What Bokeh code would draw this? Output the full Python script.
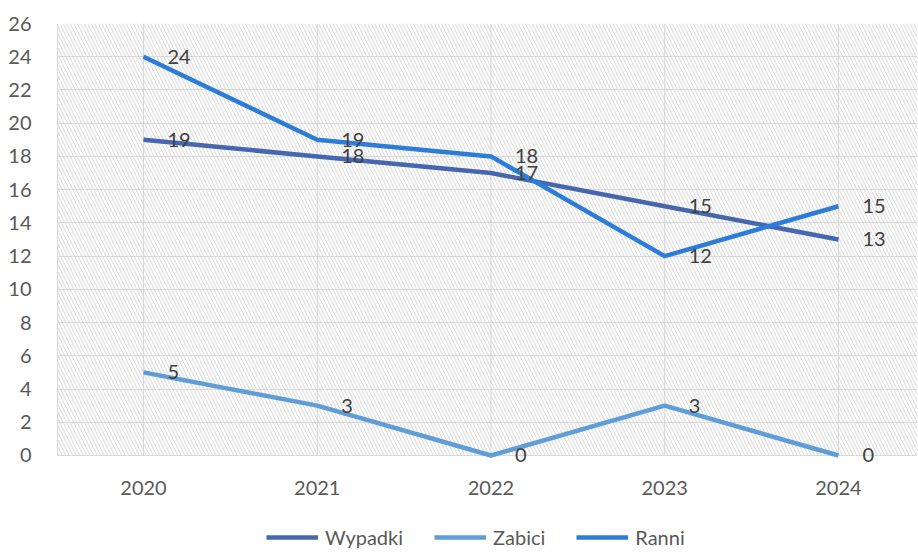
from bokeh.plotting import figure
from bokeh.models import (ColumnDataSource, Range1d, FixedTicker, BoxAnnotation,
                          Legend, LegendItem)
from bokeh.core.properties import value
from bokeh.embed import file_html
from bokeh.resources import INLINE

years = ["2020", "2021", "2022", "2023", "2024"]
wypadki = [19, 18, 17, 15, 13]
zabici = [5, 3, 0, 3, 0]
ranni = [24, 19, 18, 12, 15]
y_ticks = list(range(0, 27, 2))

FONT = "Lato"
FS = "20px"
TICK_COLOR = "#595959"
LABEL_COLOR = "#404040"
GRID = "#d9d9d9"

xs = list(range(len(years)))
y_top = y_ticks[-1]
y_bottom = y_ticks[0]

p = figure(width=918, height=552, output_backend="svg", toolbar_location=None,
           x_range=Range1d(-0.495, 4.455), y_range=Range1d(-5.84, y_top),
           min_border_left=57, min_border_right=1, min_border_top=23,
           min_border_bottom=0)
p.outline_line_color = None
p.background_fill_color = "white"
p.xaxis.visible = False
p.xgrid.visible = False

hatch = BoxAnnotation(bottom=y_bottom, top=y_top, fill_color=None, fill_alpha=0,
                      line_color=None, hatch_pattern="\\", hatch_color="#d6d6d6",
                      hatch_scale=7, hatch_weight=1, level="underlay")
p.add_layout(hatch)

p.yaxis.ticker = FixedTicker(ticks=y_ticks)
p.yaxis.bounds = (y_bottom, y_top)
p.yaxis.axis_line_color = GRID
p.yaxis.major_tick_line_color = None
p.yaxis.minor_tick_line_color = None
p.yaxis.major_label_text_font = FONT
p.yaxis.major_label_text_font_size = FS
p.yaxis.major_label_text_color = TICK_COLOR
p.yaxis.major_label_standoff = 20

p.ygrid.ticker = FixedTicker(ticks=y_ticks)
p.ygrid.grid_line_color = GRID
p.ygrid.grid_line_width = 1
p.ygrid.level = "image"

# vertical gridlines at categories, limited to the value range
vg = ColumnDataSource(dict(x0=xs, y0=[y_bottom] * len(xs), x1=xs, y1=[y_top] * len(xs)))
p.segment("x0", "y0", "x1", "y1", source=vg, line_color=GRID, line_width=1,
          level="image")

# category axis labels
cat = ColumnDataSource(dict(x=xs, y=[y_bottom] * len(xs), t=years))
p.text("x", "y", text="t", source=cat, y_offset=33, text_align="center",
       text_baseline="middle", text_font=value(FONT), text_font_size=FS,
       text_color=TICK_COLOR)

series = [("Wypadki", wypadki, "#4666B0"),
          ("Zabici", zabici, "#5E9DD7"),
          ("Ranni", ranni, "#2C7DD8")]

items = []
for name, vals, color in series:
    src = ColumnDataSource(dict(x=xs, y=vals))
    r = p.line("x", "y", source=src, line_color=color, line_width=4.5,
               line_join="round")
    items.append(LegendItem(label=name, renderers=[r]))

for name, vals, color in series:
    src = ColumnDataSource(dict(x=xs, y=vals, t=[str(v) for v in vals]))
    p.text("x", "y", text="t", source=src, x_offset=24, text_align="left",
           text_baseline="middle", text_font=value(FONT),
           text_font_size=FS, text_color=LABEL_COLOR)

legend = Legend(items=items, orientation="horizontal", location=(209, 3),
                padding=0, margin=0, spacing=31, label_standoff=7,
                glyph_width=52, glyph_height=20,
                border_line_color=None, background_fill_alpha=0,
                label_text_font=FONT, label_text_font_size=FS,
                label_text_color=TICK_COLOR)
p.add_layout(legend, "center")

open("out.html", "w").write(file_html(p, INLINE))
